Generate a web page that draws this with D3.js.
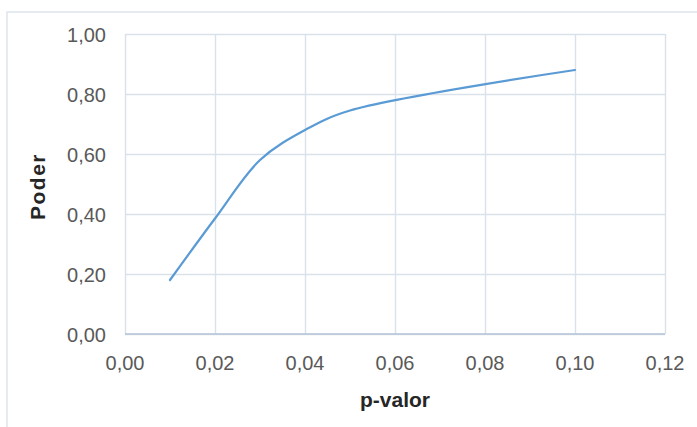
<!DOCTYPE html>
<html>
<head>
<meta charset="utf-8">
<script src="https://cdn.jsdelivr.net/npm/d3@7"></script>
<style>
  html, body { margin: 0; padding: 0; background: #fff; }
  svg { display: block; }
</style>
</head>
<body>
<svg id="chart" width="697" height="427"></svg>
<script>
// Data
const pValues = [0.01, 0.02, 0.03, 0.04, 0.05, 0.10];
const power   = [0.18, 0.385, 0.58, 0.68, 0.745, 0.88];
const xTicks  = [0, 0.02, 0.04, 0.06, 0.08, 0.10, 0.12];
const yTicks  = [0, 0.2, 0.4, 0.6, 0.8, 1.0];
const xTitle = "p-valor";
const yTitle = "Poder";

const svg = d3.select("#chart");
const W = 697, H = 427;
const m = { left: 125, right: 665, top: 34, bottom: 334 };

// outer chart frame
svg.append("rect")
  .attr("x", 7).attr("y", 12)
  .attr("width", W + 10).attr("height", H + 10)
  .attr("fill", "none").attr("stroke", "#dbe3eb").attr("stroke-width", 1.4);

const x = d3.scaleLinear().domain([0, 0.12]).range([m.left, m.right]);
const y = d3.scaleLinear().domain([0, 1]).range([m.bottom, m.top]);
const fmt = d => d3.format(".2f")(d).replace(".", ",");

// gridlines
const gx = svg.append("g").attr("transform", `translate(0,${m.bottom})`)
  .call(d3.axisBottom(x).tickValues(xTicks).tickSize(-(m.bottom - m.top)).tickFormat(""));
const gy = svg.append("g").attr("transform", `translate(${m.left},0)`)
  .call(d3.axisLeft(y).tickValues(yTicks).tickSize(-(m.right - m.left)).tickFormat(""));
[gx, gy].forEach(g => {
  g.select(".domain").remove();
  g.selectAll(".tick line").attr("stroke", "#d9e1ea").attr("stroke-width", 1.4);
});

// bottom axis line
svg.append("line")
  .attr("x1", m.left).attr("x2", m.right)
  .attr("y1", m.bottom).attr("y2", m.bottom)
  .attr("stroke", "#b4c3d6").attr("stroke-width", 1.5);

// tick labels
const lab = svg.append("g").attr("font-family", "'Liberation Sans', Arial, sans-serif")
  .attr("font-size", 20).attr("fill", "#595959");
lab.selectAll(".xl").data(xTicks).join("text")
  .attr("x", d => x(d)).attr("y", 370)
  .attr("text-anchor", "middle").text(fmt);
lab.selectAll(".yl").data(yTicks).join("text")
  .attr("x", 106).attr("y", d => y(d) + 7.5)
  .attr("text-anchor", "end").text(fmt);

// axis titles
svg.append("text")
  .attr("x", 395).attr("y", 407)
  .attr("text-anchor", "middle")
  .attr("font-family", "'Liberation Sans', Arial, sans-serif")
  .attr("font-weight", "bold").attr("font-size", 21).attr("fill", "#262626")
  .text(xTitle);
svg.append("text")
  .attr("transform", "translate(45,186.5) rotate(-90)")
  .attr("text-anchor", "middle")
  .attr("font-family", "'Liberation Sans', Arial, sans-serif")
  .attr("font-weight", "bold").attr("font-size", 21).attr("letter-spacing", 1.5)
  .attr("fill", "#262626")
  .text(yTitle);

// line
const data = pValues.map((p, i) => [p, power[i]]);
svg.append("path")
  .datum(data)
  .attr("fill", "none").attr("stroke", "#5b9bd5").attr("stroke-width", 2.2)
  .attr("stroke-linecap", "round")
  .attr("d", d3.line().x(d => x(d[0])).y(d => y(d[1])).curve(d3.curveCatmullRom.alpha(0.5)));
</script>
</body>
</html>
